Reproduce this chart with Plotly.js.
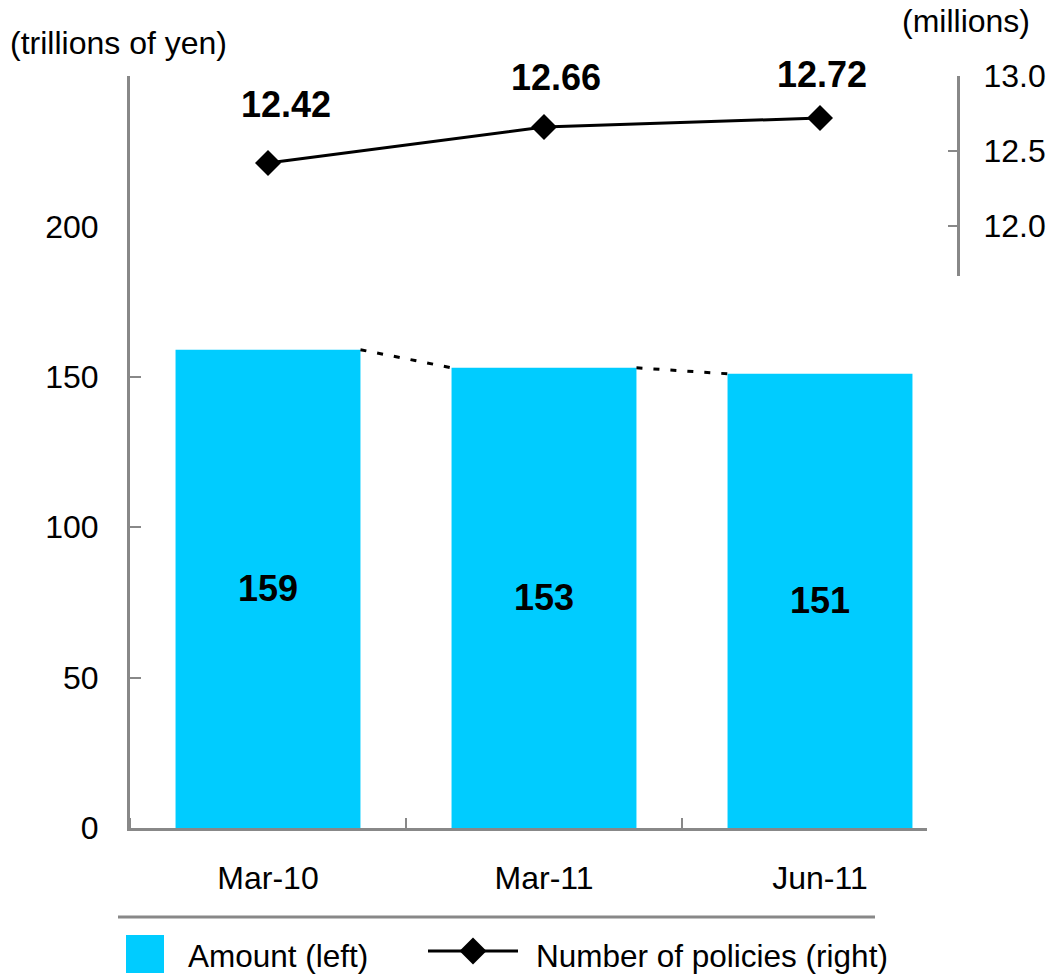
<!DOCTYPE html>
<html><head><meta charset="utf-8">
<script src="https://cdn.plot.ly/plotly-3.0.1.min.js"></script>
<style>html,body{margin:0;padding:0;background:#fff}</style>
</head><body>
<div id="chart" style="width:1049px;height:974px"></div>
<script>
// ---- data ----
const categories = ['Mar-10', 'Mar-11', 'Jun-11'];
const amount = [159, 153, 151];            // trillions of yen (left axis)
const policies = [12.42, 12.66, 12.72];    // millions (right axis)
const leftTickVals = [0, 50, 100, 150, 200, 250];
const leftTickText = ['0', '50', '100', '150', '200', ''];
const rightTickVals = [12.0, 12.5, 13.0];
const rightTickText = ['12.0', '12.5', '13.0'];
const seriesNames = ['Amount (left)', 'Number of policies (right)'];
const leftUnit = '(trillions of yen)';
const rightUnit = '(millions)';

// ---- style / geometry ----
const FONT = 'Arial, "Liberation Sans", sans-serif';
const W = 1049, H = 974, L = 130, R = 958, T = 76, B = 828;
const px = x => (x - L) / (R - L);
const py = y => (B - y) / (B - T);
const CYAN = '#00CCFF', GREY = '#888888';
const barWidth = 0.67;
const labelDx = [18, 12, 2];
const labelDy = [59, 50, 44];
const TICK_SIZE = 32;

const idx = categories.map((c, i) => i);
const connX = [], connY = [];
for (let i = 0; i < amount.length - 1; i++) {
  connX.push(idx[i] + barWidth / 2, idx[i + 1] - barWidth / 2, null);
  connY.push(amount[i], amount[i + 1], null);
}

const traces = [
  {
    type: 'bar', name: seriesNames[0], x: idx, y: amount, width: barWidth,
    marker: {color: CYAN, line: {width: 0}},
    text: amount.map(String), textposition: 'inside', insidetextanchor: 'middle',
    textangle: 0, constraintext: 'none',
    textfont: {family: FONT, size: 36, color: '#000', weight: 'bold'},
    showlegend: false, hoverinfo: 'skip'
  },
  {
    type: 'scatter', mode: 'lines', x: connX, y: connY,
    line: {color: '#000', width: 3, dash: '6px,11px'},
    showlegend: false, hoverinfo: 'skip'
  },
  {
    type: 'scatter', name: seriesNames[1], mode: 'lines+markers', x: idx, y: policies,
    yaxis: 'y2', cliponaxis: false,
    line: {color: '#000', width: 3},
    marker: {symbol: 'diamond', size: 20, color: '#000'},
    showlegend: false, hoverinfo: 'skip'
  }
];

const annotations = policies.map((v, i) => ({
  xref: 'x', yref: 'y2', x: idx[i], y: v, text: v.toFixed(2), showarrow: false,
  xshift: labelDx[i], yshift: labelDy[i],
  font: {family: FONT, size: 36, color: '#000', weight: 'bold'}
}));
annotations.push(
  {xref: 'paper', yref: 'paper', x: px(8), y: py(43), xanchor: 'left', yanchor: 'middle',
   text: leftUnit, showarrow: false, font: {family: FONT, size: 32, color: '#000'}},
  {xref: 'paper', yref: 'paper', x: px(1032), y: py(21), xanchor: 'right', yanchor: 'middle',
   text: rightUnit, showarrow: false, font: {family: FONT, size: 32, color: '#000'}},
  {xref: 'paper', yref: 'paper', x: px(186), y: py(956), xanchor: 'left', yanchor: 'middle',
   text: seriesNames[0], showarrow: false, font: {family: FONT, size: 31.5, color: '#000'}},
  {xref: 'paper', yref: 'paper', x: px(534), y: py(956), xanchor: 'left', yanchor: 'middle',
   text: seriesNames[1], showarrow: false, font: {family: FONT, size: 31.5, color: '#000'}}
);

const dcx = px(473), dcy = py(951), ddx = 13.5 / (R - L), ddy = 13.5 / (B - T);
const shapes = [
  {type: 'line', xref: 'paper', yref: 'paper', x0: px(118), x1: px(875), y0: py(917), y1: py(917),
   line: {color: GREY, width: 3}},
  {type: 'rect', xref: 'paper', yref: 'paper', x0: px(126), x1: px(164), y0: py(935), y1: py(973),
   fillcolor: CYAN, line: {width: 0}},
  {type: 'line', xref: 'paper', yref: 'paper', x0: px(428), x1: px(518), y0: dcy, y1: dcy,
   line: {color: '#000', width: 3}},
  {type: 'path', xref: 'paper', yref: 'paper',
   path: `M${dcx},${dcy + ddy} L${dcx + ddx},${dcy} L${dcx},${dcy - ddy} L${dcx - ddx},${dcy} Z`,
   fillcolor: '#000', line: {width: 0}}
];

const layout = {
  width: W, height: H,
  margin: {l: L, r: W - R, t: T, b: H - B, pad: 0},
  paper_bgcolor: '#fff', plot_bgcolor: '#fff',
  font: {family: FONT, size: TICK_SIZE, color: '#000'},
  showlegend: false, hovermode: false,
  xaxis: {
    domain: [0, px(927)], range: [-0.5, -0.5 + (927 - L) * 3 / (R - L)],
    tickmode: 'array', tickvals: idx, ticktext: categories, ticks: '',
    showline: true, linecolor: GREY, linewidth: 3, showgrid: false, zeroline: false,
    ticklabelstandoff: 20, tickfont: {family: FONT, size: TICK_SIZE, color: '#000'},
    minor: {tick0: -0.5, dtick: 1, ticks: 'inside', ticklen: 10, tickwidth: 2, tickcolor: GREY, showgrid: false},
    fixedrange: true
  },
  yaxis: {
    range: [0, 250], tickmode: 'array', tickvals: leftTickVals, ticktext: leftTickText,
    ticks: 'inside', ticklen: 11, tickwidth: 2, tickcolor: GREY,
    showline: true, linecolor: GREY, linewidth: 3, showgrid: false, zeroline: false,
    ticklabelstandoff: 22, tickfont: {family: FONT, size: TICK_SIZE, color: '#000'},
    fixedrange: true
  },
  yaxis2: {
    domain: [py(276), 1], range: [12.0 - 50 / 150, 13.0],
    anchor: 'free', position: 1, side: 'right',
    tickmode: 'array', tickvals: rightTickVals, ticktext: rightTickText,
    ticks: 'inside', ticklen: 9, tickwidth: 2, tickcolor: GREY,
    showline: true, linecolor: GREY, linewidth: 3, showgrid: false, zeroline: false,
    ticklabelstandoff: 17, tickfont: {family: FONT, size: TICK_SIZE, color: '#000'},
    fixedrange: true
  },
  annotations: annotations,
  shapes: shapes
};

Plotly.newPlot('chart', traces, layout, {staticPlot: true, displayModeBar: false});
</script>
</body></html>
